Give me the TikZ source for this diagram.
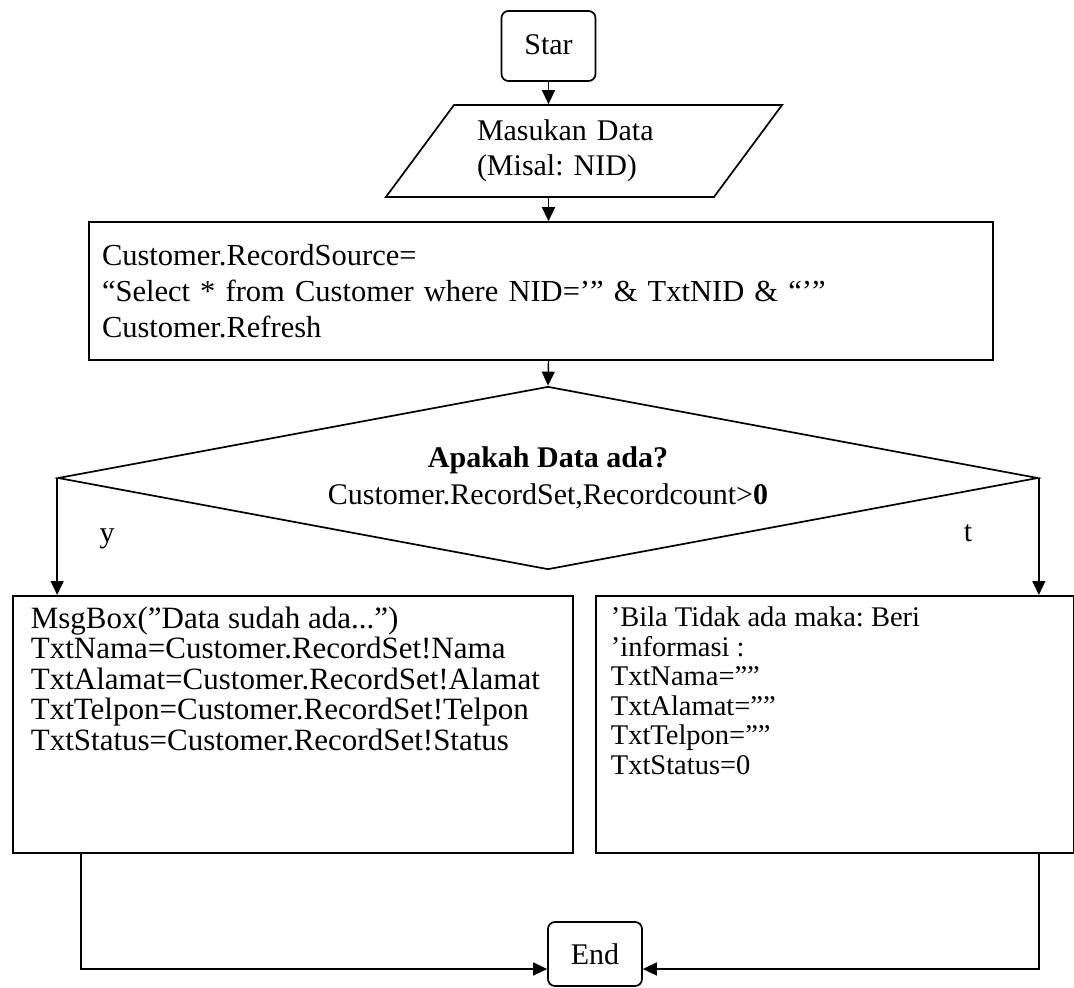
\documentclass[tikz,border=0pt]{standalone}
\usepackage{fontspec}
\setmainfont{Liberation Serif}
\frenchspacing
\usetikzlibrary{shapes.geometric,arrows.meta}

\begin{document}
\begin{tikzpicture}[x=1pt, y=-1pt,
    line width=1.7pt,
    >={Triangle[length=14pt,width=13pt]},
    every node/.style={font=\fontsize{30}{35}\selectfont},
    terminal/.style={draw, rounded corners=7pt, minimum width=94pt, inner sep=0pt},
    inbox/.style={draw, trapezium, trapezium left angle=50, trapezium right angle=130,
        trapezium stretches=true, minimum width=398pt, minimum height=92pt,
        text width=214pt, align=left},
    procbox/.style={draw, rectangle, inner sep=0pt},
    flow/.style={->, line width=1.4pt}]

    \useasboundingbox (0,0) rectangle (1074,988);

    % Start and input
    \node[terminal, minimum height=70pt] (start) at (548.5,46) {\raisebox{3pt}{Star}};
    \node[inbox] (input) at (584,151) {Masukan Data\\(Misal: NID)};

    % Query
    \node[procbox, minimum width=904pt, minimum height=138pt, text width=878pt, align=left,
          font=\fontsize{30.5}{36}\selectfont] (query) at (541,291)
        {Customer.RecordSource=\\
         “Select * from Customer where NID=’” \& TxtNID \& “’”\\
         Customer.Refresh};

    % Decision
    \node[draw, diamond, aspect=5.355, minimum width=980pt, minimum height=183pt, inner sep=0pt,
          align=center, font=\fontsize{30}{37}\selectfont] (decision) at (548,478)
        {\textbf{Apakah Data ada?}\\Customer.RecordSet,Recordcount>\textbf{0}};
    \node (ylab) at (107,539) {y};
    \node (tlab) at (968,533) {t};

    % Branches
    \node[procbox, anchor=north west, inner xsep=18pt, inner ysep=11pt] (lbox) at (12,595)
        {\begin{minipage}[t][235pt][t]{524pt}\fontsize{31}{30.5}\selectfont
         MsgBox(”Data sudah ada...”)\\
         TxtNama=Customer.RecordSet!Nama\\
         TxtAlamat=Customer.RecordSet!Alamat\\
         TxtTelpon=Customer.RecordSet!Telpon\\
         TxtStatus=Customer.RecordSet!Status
         \end{minipage}};
    \node[procbox, anchor=north west, inner xsep=15pt, inner ysep=11pt] (rbox) at (595,595)
        {\begin{minipage}[t][235pt][t]{448pt}\fontsize{28.5}{29.5}\selectfont
         ’Bila Tidak ada maka: Beri\\
         ’informasi :\\
         TxtNama=””\\
         TxtAlamat=””\\
         TxtTelpon=””\\
         TxtStatus=0
         \end{minipage}};

    % End
    \node[terminal, minimum height=64pt] (end) at (595,954) {End};
    \coordinate (jl) at (81,969);
    \coordinate (jr) at (1039,969);

    % Connectors
    \draw[flow] (start.south) -- (start.south |- input.north);
    \draw[flow] (start.south |- input.south) -- (start.south |- query.north);
    \draw[flow] (start.south |- query.south) -- (decision.north);
    \draw[flow] (decision.west) -- (decision.west |- lbox.north);
    \draw[flow] (decision.east) -- (decision.east |- rbox.north);
    \draw[flow] (lbox.south -| jl) -- (jl) -- (end.west |- jl);
    \draw[flow] (rbox.south -| jr) -- (jr) -- (end.east |- jr);

\end{tikzpicture}
\end{document}
